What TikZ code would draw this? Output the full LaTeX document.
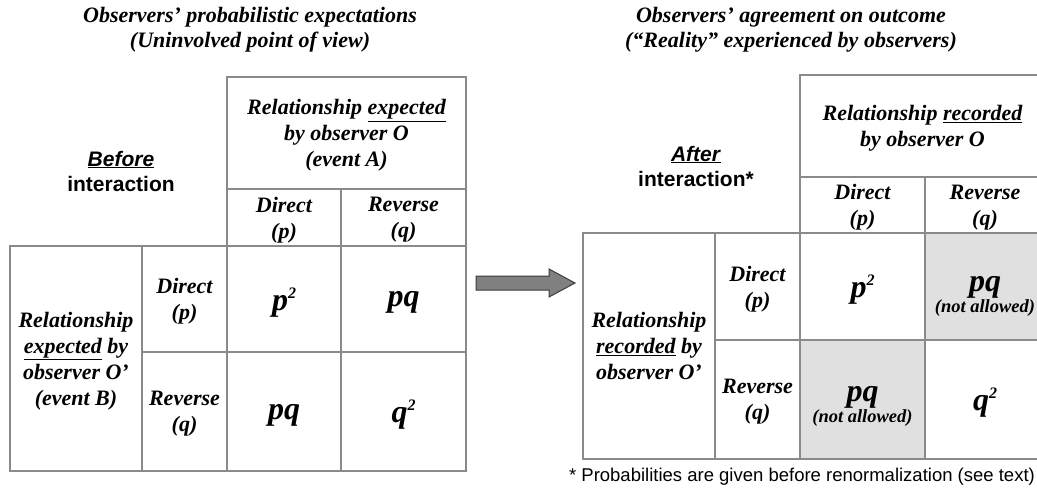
\documentclass[tikz,border=0pt]{standalone}
\usepackage{fontspec}
\setmainfont{Liberation Serif}
\setsansfont{Liberation Sans}
\usetikzlibrary{positioning}
\definecolor{gridgray}{HTML}{8A8A8A}
\definecolor{shadegray}{HTML}{E0E0E0}
\definecolor{arrowgray}{HTML}{808080}
\definecolor{arrowedge}{HTML}{3C3C3C}

\begin{document}
\begin{tikzpicture}[x=1pt, y=-1pt,
      cell/.style ={rectangle, draw=gridgray, line width=1.3pt, inner sep=0pt, outer sep=0pt, align=center,
                    text depth=0pt, font=\fontsize{22}{26}\selectfont\bfseries\itshape},
      shaded/.style ={cell, fill=shadegray},
      value/.style ={align=center, inner sep=0pt, font=\fontsize{22}{26}\selectfont\bfseries\itshape},
      title/.style ={align=center, font=\fontsize{22}{25}\selectfont\bfseries\itshape},
      phase/.style ={align=center, font=\fontsize{21}{25}\selectfont\sffamily\bfseries},
      note/.style ={font=\fontsize{18.5}{22}\selectfont\sffamily}
    ]
    \useasboundingbox (0,0) rectangle (1037,492);
    \newcommand{\prob}[2]{{\fontsize{32}{34}\selectfont #1\raisebox{12pt}{\fontsize{16}{16}\selectfont #2}}}
    \newcommand{\banned}{\prob{pq}{}\\[-5pt]{\fontsize{18.5}{20}\selectfont\bfseries\itshape (not allowed)}}

    % titles
    \node [title] (titleL) at (250,30) {Observers’ probabilistic expectations\\(Uninvolved point of view)} ;
    \node [title] (titleR) at (791,30) {Observers’ agreement on outcome\\(“Reality” experienced by observers)} ;

    % before interaction
    \node [phase] (before) at (121,171) {\underline{\textit{Before}}\\interaction} ;
    \node [cell, minimum width=239pt, minimum height=112pt, anchor=north west] (headL) at (227,77)
          {Relationship \underline{expected}\\by observer O\\(event A)} ;
    \node [cell, minimum width=114pt, minimum height=57pt, below=0pt of headL.south west, anchor=north west] (colDL) {Direct\\(p)} ;
    \node [cell, minimum width=125pt, minimum height=57pt] (colRL) [right=0pt of colDL] {Reverse\\(q)} ;
    \node [cell, minimum width=114pt, minimum height=106pt] (ppL) [below=0pt of colDL] {\prob{p}{2}} ;
    \node [cell, minimum width=125pt, minimum height=106pt] (pqL) [right=0pt of ppL] {\prob{pq}{}} ;
    \node [cell, minimum width=114pt, minimum height=119pt] (qpL) [below=0pt of ppL] {\prob{pq}{}} ;
    \node [cell, minimum width=125pt, minimum height=119pt] (qqL) [right=0pt of qpL] {\prob{q}{2}} ;
    \node [cell, minimum width=85pt, minimum height=106pt] (rowDL) [left=0pt of ppL] {Direct\\(p)} ;
    \node [cell, minimum width=85pt, minimum height=119pt] (rowRL) [left=0pt of qpL] {Reverse\\(q)} ;
    \node [cell, minimum width=132pt, minimum height=225pt, anchor=north east] (obsL) at (rowDL.north west)
          {Relationship\\\underline{expected} by\\observer O’\\(event B)} ;

    % after interaction
    \node [phase] (after) at (696,166) {\underline{\textit{After}}\\interaction*} ;
    \node [cell, minimum width=245pt, minimum height=102pt, anchor=north west] (headR) at (800,75)
          {Relationship \underline{recorded}\\by observer O} ;
    \node [cell, minimum width=125pt, minimum height=56pt, below=0pt of headR.south west, anchor=north west] (colDR) {Direct\\(p)} ;
    \node [cell, minimum width=120pt, minimum height=56pt] (colRR) [right=0pt of colDR] {Reverse\\(q)} ;
    \node [cell, minimum width=125pt, minimum height=107pt] (ppR) [below=0pt of colDR] {\prob{p}{2}} ;
    \node [shaded, minimum width=120pt, minimum height=107pt, label={[value, yshift=-10pt]center:{\banned}}] (pqR) [right=0pt of ppR] {} ;
    \node [shaded, minimum width=125pt, minimum height=119pt, label={[value, yshift=-7pt]center:{\banned}}] (qpR) [below=0pt of ppR] {} ;
    \node [cell, minimum width=120pt, minimum height=119pt] (qqR) [right=0pt of qpR] {\prob{q}{2}} ;
    \node [cell, minimum width=85pt, minimum height=107pt] (rowDR) [left=0pt of ppR] {Direct\\(p)} ;
    \node [cell, minimum width=85pt, minimum height=119pt] (rowRR) [left=0pt of qpR] {Reverse\\(q)} ;
    \node [cell, minimum width=132pt, minimum height=226pt, anchor=north east] (obsR) at (rowDR.north west)
          {Relationship\\\underline{recorded} by\\observer O’} ;
    \node [note] (footnote) at (802,477) {* Probabilities are given before renormalization (see text)} ;

    % block arrow
    \coordinate (arrowtail) at (476,283) ;
    \draw [fill=arrowgray, draw=arrowedge, line width=1pt, line join=miter]
          (arrowtail) ++(0,-7) -- ++(73,0) -- ++(0,-7) -- ++(26,14) -- ++(-26,14) -- ++(0,-7) -- ++(-73,0) -- cycle ;
  \end{tikzpicture}
\end{document}
